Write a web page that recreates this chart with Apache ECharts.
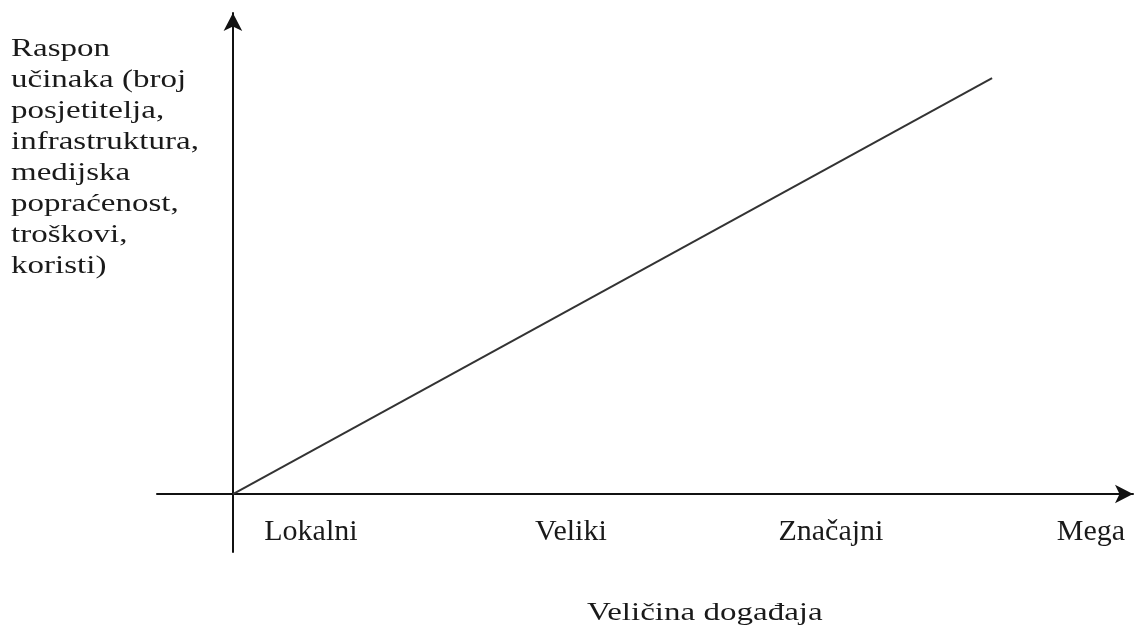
<!DOCTYPE html>
<html>
<head>
<meta charset="utf-8">
<script src="https://cdn.jsdelivr.net/npm/echarts@6/dist/echarts.min.js"></script>
<style>html,body{margin:0;padding:0;background:#fff;}#c{width:1136px;height:630px;}</style>
</head>
<body>
<div id="c"></div>
<script>
// Data
const sizeCategories = ['Lokalni', 'Veliki', 'Značajni', 'Mega'];
const lineX = [0, 2.92];
const lineY = [0, 1.6];
const yLabelLines = ['Raspon', 'učinaka (broj', 'posjetitelja,', 'infrastruktura,', 'medijska', 'popraćenost,', 'troškovi,', 'koristi)'];
const xTitle = 'Veličina događaja';

const labelOffset = 0.3;
const catPositions = sizeCategories.map((c, i) => i + labelOffset);
const font = 'Liberation Serif, Times New Roman, serif';

const chart = echarts.init(document.getElementById('c'));
chart.setOption({
  animation: false,
  backgroundColor: '#fff',
  graphic: [
    {
      type: 'text', x: 11, y: 34, scaleX: 1.27, scaleY: 1,
      style: { text: yLabelLines.join('\n'), font: '26px ' + font, lineHeight: 31, fill: '#1a1a1a' }
    },
    {
      type: 'text', x: 587, y: 600, scaleX: 1.27, scaleY: 1,
      style: { text: xTitle, font: '26px ' + font, fill: '#1a1a1a' }
    }
  ],
  grid: { left: 157, right: 3, top: 13, bottom: 78, containLabel: false },
  xAxis: {
    type: 'value',
    min: -0.292, max: 3.462,
    splitLine: { show: false },
    axisTick: { show: false },
    axisLine: { onZero: true, symbol: ['none', 'arrow'], symbolSize: [14, 18], lineStyle: { color: '#111', width: 2 } },
    axisLabel: {
      customValues: catPositions,
      formatter: function (v) {
        const i = Math.round(v - labelOffset);
        return sizeCategories[i] || '';
      },
      margin: -35,
      fontFamily: font, fontSize: 30, color: '#1a1a1a'
    }
  },
  yAxis: {
    type: 'value',
    min: -0.223, max: 1.85,
    splitLine: { show: false },
    axisTick: { show: false },
    axisLabel: { show: false },
    axisLine: { onZero: true, symbol: ['none', 'arrow'], symbolSize: [14, 18], lineStyle: { color: '#111', width: 2 } }
  },
  series: [{
    type: 'line',
    data: lineX.map((x, i) => [x, lineY[i]]),
    symbol: 'none',
    lineStyle: { color: '#333', width: 2 }
  }]
});
</script>
</body>
</html>
